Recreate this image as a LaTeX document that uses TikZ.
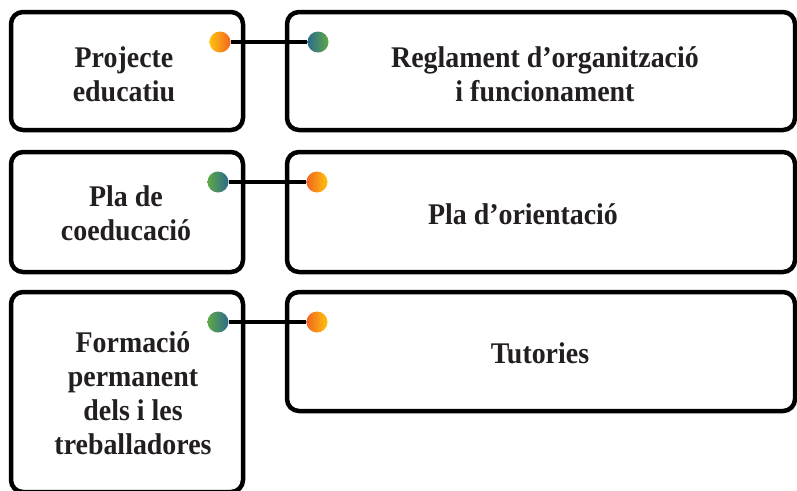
\documentclass[tikz,border=0pt]{standalone}
\usepackage{fontspec}
\setmainfont{Liberation Serif}[FakeStretch=0.93]
\definecolor{txt}{HTML}{231F20}
\definecolor{dotY}{HTML}{FFC20E}
\definecolor{dotO}{HTML}{F26522}
\definecolor{dotT}{HTML}{2E6A8C}
\definecolor{dotG}{HTML}{5EAA46}
\begin{document}
\begin{tikzpicture}[x=1pt,y=-1pt,
  box/.style={draw=black, line width=4.5pt, rounded corners=12pt, fill=white, rectangle, inner sep=0pt},
  lbl/.style={font=\bfseries\fontsize{30}{34}\selectfont, text=txt, align=center, inner sep=0pt},
  dot/.style={circle, inner sep=0pt, minimum size=21pt, draw=none},
  warm/.style={dot, left color=dotY, right color=dotO},
  warmr/.style={dot, left color=dotO, right color=dotY},
  cool/.style={dot, left color=dotT, right color=dotG},
  coolr/.style={dot, left color=dotG, right color=dotT},
  conn/.style={draw=black, line width=4.5pt}
]
\useasboundingbox (0,0) rectangle (797,490);
% boxes
\node[box, minimum width=232pt, minimum height=118pt] (L1) at (127,71) {};
\node[box, minimum width=508pt, minimum height=118pt] (R1) at (541,71) {};
\node[box, minimum width=232pt, minimum height=120pt] (L2) at (127,212) {};
\node[box, minimum width=508pt, minimum height=120pt] (R2) at (541,212) {};
\node[box, minimum width=232pt, minimum height=200pt] (L3) at (127,392) {};
\node[box, minimum width=508pt, minimum height=119pt] (R3) at (541,351.5) {};
% labels
\node[lbl] (tL1) at (124,74) {Projecte\\educatiu};
\node[lbl] (tR1) at (545,74) {Reglament d’organització\\i funcionament};
\node[lbl] (tL2) at (126,213) {Pla de\\coeducació};
\node[lbl] (tR2) at (523,214) {Pla d’orientació};
\node[lbl] (tL3) at (133,393) {Formació\\permanent\\dels i les\\treballadores};
\node[lbl] (tR3) at (540,353) {Tutories};
% dots
\node[warm] (d1a) at (220,42) {};
\node[cool] (d1b) at (318,42) {};
\node[coolr] (d2a) at (218,182) {};
\node[warmr] (d2b) at (317,182) {};
\node[coolr] (d3a) at (218,322) {};
\node[warmr] (d3b) at (317,322) {};
% connectors
\draw[conn] (d1a) -- (d1b);
\draw[conn] (d2a) -- (d2b);
\draw[conn] (d3a) -- (d3b);
\end{tikzpicture}
\end{document}
